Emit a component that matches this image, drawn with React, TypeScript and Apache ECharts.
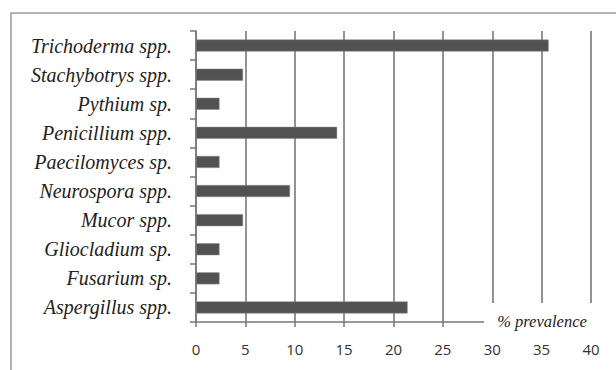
import React, { useEffect, useRef } from "react";
import * as echarts from "echarts";

const categories = [
  "Trichoderma spp.",
  "Stachybotrys spp.",
  "Pythium sp.",
  "Penicillium spp.",
  "Paecilomyces sp.",
  "Neurospora spp.",
  "Mucor spp.",
  "Gliocladium sp.",
  "Fusarium sp.",
  "Aspergillus spp.",
];
const prevalence = [35.71, 4.76, 2.38, 14.29, 2.38, 9.52, 4.76, 2.38, 2.38, 21.43];
const axisTitle = "% prevalence";

export default function App() {
  const ref = useRef<HTMLDivElement>(null);
  useEffect(() => {
    document.body.style.margin = "0";
    const chart = echarts.init(ref.current!, null, { renderer: "svg" });
    chart.setOption({
      animation: false,
      backgroundColor: "#ffffff",
      grid: { left: 196, top: 31, right: 25, bottom: 48, containLabel: false },
      xAxis: {
        type: "value",
        min: 0,
        max: 40,
        interval: 5,
        axisLine: { show: true, lineStyle: { color: "#777777", width: 1.5 } },
        axisTick: { show: true, length: 5, lineStyle: { color: "#777777", width: 1.5 } },
        splitLine: { show: true, lineStyle: { color: "#6f6f6f", width: 1.5 } },
        axisLabel: {
          margin: 19,
          fontFamily: "Open Sans",
          fontSize: 15,
          color: "#333333",
        },
      },
      yAxis: {
        type: "category",
        data: categories,
        inverse: true,
        axisLine: { show: true, lineStyle: { color: "#777777", width: 1.5 } },
        axisTick: { show: true, length: 6, alignWithLabel: false, lineStyle: { color: "#777777", width: 1.5 } },
        splitLine: { show: false },
        axisLabel: {
          margin: 24,
          fontFamily: "Liberation Serif",
          fontStyle: "italic",
          fontSize: 20,
          color: "#222222",
        },
      },
      series: [
        {
          type: "bar",
          data: prevalence,
          barWidth: 12,
          itemStyle: { color: "#525252", borderColor: "#8a8a8a", borderWidth: 0.5 },
        },
      ],
      graphic: [
        {
          type: "rect",
          z: 100,
          shape: { x: 11, y: 13, width: 800, height: 600 },
          style: { fill: "none", stroke: "#9a9a9a", lineWidth: 1.5 },
        },
        {
          type: "rect",
          z: 100,
          shape: { x: 484, y: 303, width: 125, height: 35 },
          style: { fill: "#ffffff", stroke: "none" },
        },
        {
          type: "text",
          z: 101,
          x: 542,
          y: 321,
          style: {
            text: axisTitle,
            fontFamily: "Liberation Serif",
            fontStyle: "italic",
            fontSize: 16.5,
            fill: "#222222",
            align: "center",
            verticalAlign: "middle",
          },
        },
      ],
    });
    return () => chart.dispose();
  }, []);
  return <div ref={ref} style={{ width: 616, height: 370 }} />;
}
